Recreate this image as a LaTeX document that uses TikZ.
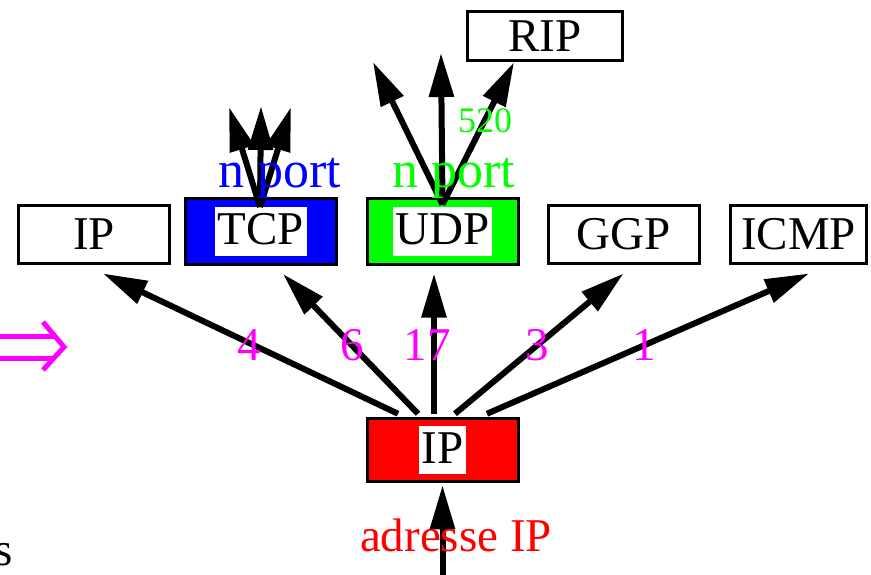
\documentclass[tikz,border=0pt]{standalone}
\usepackage{fontspec}
\setmainfont{Liberation Serif}
\usetikzlibrary{arrows.meta,calc}
\definecolor{PortBlue}{HTML}{0000FF}
\definecolor{PortGreen}{HTML}{00FF00}
\definecolor{IpRed}{HTML}{FF0000}
\definecolor{ProtoPink}{HTML}{FF00FF}
\newcommand{\protofont}{\fontsize{47}{56}\selectfont}

\begin{document}
\begin{tikzpicture}[x=1pt,y=-1pt,
    proto/.style={draw,line width=3pt,inner sep=0pt,
      minimum width=151pt,minimum height=57pt,font=\protofont},
    tag/.style={fill=white,inner xsep=2.5pt,inner ysep=0pt,
      text height=37pt,text depth=11pt,font=\protofont},
    arr/.style={line width=6pt,-{Triangle[length=44pt,width=24pt]}},
    num/.style={ProtoPink,anchor=base,inner sep=0pt,font=\protofont},
    port/.style={anchor=base,inner sep=0pt,font=\fontsize{52}{60}\selectfont}]
  \useasboundingbox (0,0) rectangle (871,575);

  % couche transport
  \node[proto] (ip) at (94,234.5) {IP};
  \node[proto,fill=PortBlue,minimum height=66pt] (tcp) at (261,231.5) {};
  \node[tag] (tcp-l) at (tcp) {TCP};
  \node[proto,fill=PortGreen,minimum height=65pt] (udp) at (442.5,231.5) {};
  \node[tag] (udp-l) at (udp) {UDP};
  \node[proto] (ggp) at (623.5,234.5) {GGP};
  \node[proto,minimum width=136.5pt] (icmp) at (798.5,234.5) {ICMP};
  \node[proto,minimum width=155.5pt,minimum height=49.5pt] (rip) at (545,36) {RIP};

  % couche reseau
  \node[proto,fill=IpRed,minimum height=63.5pt] (ipbot) at (442.5,450) {};
  \node[tag] (ipbot-l) at (ipbot) {IP};

  \coordinate (in) at (442.5,585);
  \coordinate (t1) at (229,107);
  \coordinate (t2) at (261,106);
  \coordinate (t3) at (291,107);
  \coordinate (u1) at (373,62);
  \coordinate (u2) at (441,53);

  \draw[arr] (in) -- ($(ipbot.south)+(0,2)$);
  \draw[arr] ($(ipbot.north)+(-44.5,-3)$) -- ($(ip.south)+(9,9)$);
  \draw[arr] ($(ipbot.north)+(-24.5,-3)$) -- ($(tcp.south)+(22,8)$);
  \draw[arr] ($(ipbot.north)+(-8.5,-3)$) -- ($(udp.south)+(-8.5,8)$);
  \draw[arr] ($(ipbot.north)+(12.5,-3)$) -- ($(ggp.south)+(0,9)$);
  \draw[arr] ($(ipbot.north)+(44.5,-3)$) -- ($(icmp.south)+(10.5,9)$);

  \foreach \t in {t1,t2,t3}
    \draw[arr] ($(tcp.north)+(-1,10)$) -- (\t);
  \draw[arr] ($(udp.north)+(0,7)$) -- (u1);
  \draw[arr] ($(udp.north)+(0,7)$) -- (u2);
  \draw[arr] ($(udp.north)+(0,7)$) -- ($(rip.south)+(-31,0)$);

  % numeros de protocole
  \node[num] (n4) at (249,360) {4};
  \node[num] (n6) at (352,360) {6};
  \node[num] (n17) at (427,360) {17};
  \node[num] (n3) at (537,360) {3};
  \node[num] (n1) at (644,360) {1};

  \node[port,PortBlue] (tcp-p) at (280,188) {n port};
  \node[port,PortGreen] (udp-p) at (453.5,188) {n port};
  \node[anchor=base,inner sep=0pt,PortGreen,font=\fontsize{36}{42}\selectfont]
    (n520) at (485,133) {520};
  \node[anchor=base,inner sep=0pt,IpRed,font=\protofont] (adr) at (456,551) {adresse IP};
  \node[anchor=base east,inner sep=0pt,font=\protofont] (cut) at (12.5,565) {s};

  % fleche de gauche
  \draw[ProtoPink,line width=5pt] (-5,336) -- (55,336) (-5,358) -- (55,358);
  \draw[ProtoPink,line width=5pt] (43,322) -- (64,347) -- (43,370);
\end{tikzpicture}
\end{document}
